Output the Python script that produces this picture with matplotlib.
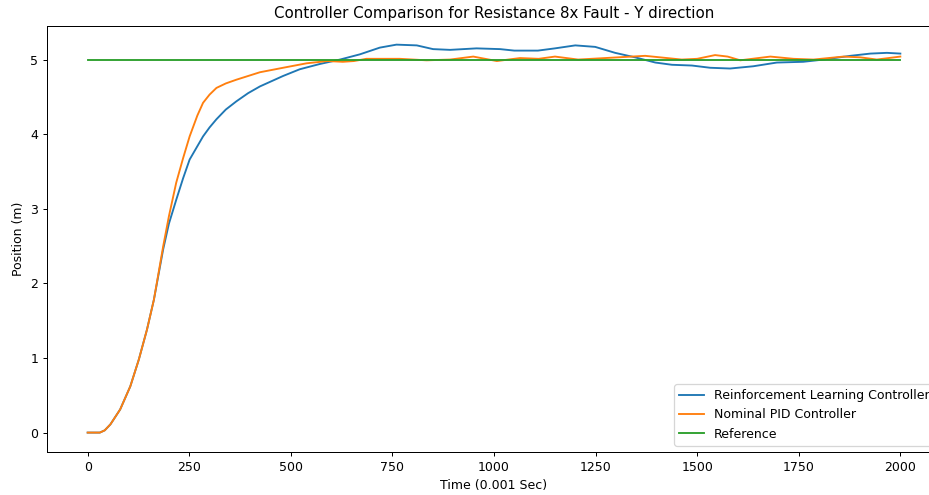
import matplotlib
matplotlib.use("Agg")
from matplotlib import pyplot as plt

# values
rl_time = [0, 30, 42, 56, 80, 105, 126, 146, 163, 186, 200, 218, 235, 251, 284, 300, 317, 340,
           366, 395, 424, 481, 522, 571, 621, 670, 719, 760, 810, 850, 892, 957, 1015, 1050,
           1108, 1150, 1200, 1249, 1298, 1347, 1397, 1438, 1487, 1532, 1581, 1638, 1696,
           1761, 1811, 1877, 1926, 1967, 2000]
rl_pos = [0, 0, 0.03, 0.11, 0.31, 0.62, 0.98, 1.38, 1.78, 2.46, 2.80, 3.12, 3.41, 3.66, 3.97, 4.09,
          4.20, 4.33, 4.44, 4.55, 4.64, 4.78, 4.87, 4.94, 5.00, 5.07, 5.16, 5.20, 5.19, 5.14,
          5.13, 5.15, 5.14, 5.12, 5.12, 5.15, 5.19, 5.17, 5.09, 5.03, 4.96, 4.93, 4.92, 4.89,
          4.88, 4.91, 4.96, 4.97, 5.00, 5.05, 5.08, 5.09, 5.08]

pid_time = [0, 30, 42, 56, 80, 105, 126, 146, 163, 186, 200, 218, 235, 251, 270, 284, 300, 317,
            340, 366, 424, 481, 539, 590, 628, 655, 686, 768, 834, 892, 949, 1007, 1064,
            1110, 1150, 1207, 1273, 1372, 1462, 1500, 1544, 1575, 1606, 1680, 1737, 1786,
            1860, 1901, 1942, 2000]
pid_pos = [0, 0, 0.03, 0.11, 0.31, 0.62, 0.98, 1.38, 1.78, 2.50, 2.90, 3.35, 3.68, 3.97, 4.25,
           4.42, 4.53, 4.62, 4.68, 4.73, 4.83, 4.89, 4.95, 4.98, 4.97, 4.98, 5.01, 5.01, 4.99,
           5.00, 5.04, 4.98, 5.02, 5.01, 5.04, 5.00, 5.02, 5.05, 5.00, 5.01, 5.06, 5.04, 4.99,
           5.04, 5.01, 5.00, 5.04, 5.03, 5.00, 5.04]

ref_time = [0, 2000]
ref_pos = [5, 5]

# original was drawn larger and scaled down, so render at 90 dpi
fig = plt.figure(figsize=(929 / 90, 495 / 90), dpi=90)
# axes run a little past the right edge, like the cropped original
ax = fig.add_axes([0.0506, 0.0869, 0.9623, 0.8606])

ax.plot(rl_time, rl_pos, label='Reinforcement Learning Controller')
ax.plot(pid_time, pid_pos, label='Nominal PID Controller')
ax.plot(ref_time, ref_pos, label='Reference')

ax.set_title('Controller Comparison for Resistance 8x Fault - Y direction')
ax.set_xlabel('Time (0.001 Sec)')
ax.set_ylabel('Position (m)')
ax.set_xlim(-100, 2100)
ax.set_ylim(-0.26, 5.45)
ax.legend(loc='lower right')

plt.savefig('out.png', dpi=90)
